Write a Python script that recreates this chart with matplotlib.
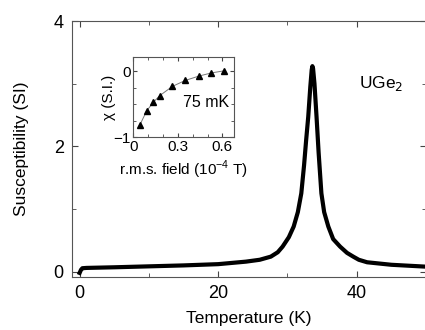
import matplotlib
matplotlib.use('Agg')
import matplotlib.pyplot as plt
from matplotlib.ticker import MultipleLocator

plt.rcParams['font.family'] = ['Liberation Sans', 'DejaVu Sans']

# main curve: susceptibility vs temperature
temp = [0.0, 0.2, 0.4, 1, 5, 10, 15, 20, 24, 26, 27.6, 28.6, 29.3, 30.2, 30.9, 31.5, 32.0,
        32.4, 32.7, 33.0, 33.3, 33.5, 33.6, 33.7, 33.9, 34.2, 34.5, 34.9, 35.3, 35.9, 36.6,
        37.6, 38.6, 39.5, 40.3, 41.5, 45, 50]
chi = [-0.02, 0.03, 0.055, 0.06, 0.07, 0.085, 0.1, 0.12, 0.16, 0.19, 0.24, 0.31, 0.40, 0.55,
       0.72, 0.95, 1.25, 1.7, 2.1, 2.47, 2.95, 3.22, 3.28, 3.24, 3.0, 2.47, 1.9, 1.25, 0.95,
       0.72, 0.52, 0.40, 0.30, 0.24, 0.19, 0.15, 0.11, 0.08]

# inset: chi vs r.m.s. field at 75 mK
field = [0.045, 0.09, 0.135, 0.178, 0.263, 0.35, 0.44, 0.526, 0.61]
chi_in = [-0.81, -0.60, -0.47, -0.37, -0.23, -0.14, -0.075, -0.026, 0.005]

fig = plt.figure(figsize=(4.25, 3.3), dpi=100)
ax = fig.add_axes([72 / 425, 1 - 277 / 330, (426 - 72) / 425, (277 - 21) / 330])
ax.plot(temp, chi, color='black', lw=3, solid_joinstyle='round')
ax.set_xlim(-1.1, 50)
ax.set_ylim(-0.085, 4)
ax.xaxis.set_major_locator(MultipleLocator(20))
ax.xaxis.set_minor_locator(MultipleLocator(10))
ax.yaxis.set_major_locator(MultipleLocator(2))
ax.yaxis.set_minor_locator(MultipleLocator(1))
ax.tick_params(which='both', direction='in', top=True, right=True, labelsize=13,
               color='#444444', pad=6)
ax.tick_params(which='major', length=4)
ax.tick_params(which='minor', length=3)
for s in ax.spines.values():
    s.set_color('#555555')
    s.set_linewidth(0.8)
ax.spines['right'].set_visible(False)
ax.set_xlabel('Temperature (K)', fontsize=12.5, labelpad=6)
ax.set_ylabel('Susceptibility (SI)', fontsize=12.5, labelpad=18)
ax.text(0.81, 0.74, 'UGe$_2$', transform=ax.transAxes, fontsize=12.5)

ins = fig.add_axes([133.3 / 425, 1 - 137.3 / 330, (234.3 - 133.3) / 425, (137.3 - 57.3) / 330])
ins.plot(field, chi_in, color='#777777', lw=0.7)
ins.plot(field, chi_in, ls='none', marker='^', color='black', ms=4)
ins.set_xlim(0, 0.68)
ins.set_ylim(-1, 0.21)
ins.set_xticks([0, 0.3, 0.6])
ins.set_xticklabels(['0', '0.3', '0.6'])
ins.xaxis.set_minor_locator(MultipleLocator(0.1))
ins.set_yticks([-1, 0])
ins.set_yticklabels(['\u22121', '0'])
ins.yaxis.set_minor_locator(MultipleLocator(0.25))
ins.tick_params(which='both', direction='in', top=True, right=True, labelsize=11,
                color='#444444', pad=2)
ins.tick_params(which='major', length=3)
ins.tick_params(which='minor', length=2)
for s in ins.spines.values():
    s.set_color('#555555')
    s.set_linewidth(0.8)
ins.set_xlabel('r.m.s. field (10$^{\\mathregular{-4}}$ T)', fontsize=11, labelpad=3)
ins.set_ylabel('\u03c7 (S.I.)', fontsize=11, labelpad=-2)
ins.text(0.95, 0.38, '75 mK', transform=ins.transAxes, fontsize=11.5, ha='right')

fig.savefig('out.png', dpi=100)
